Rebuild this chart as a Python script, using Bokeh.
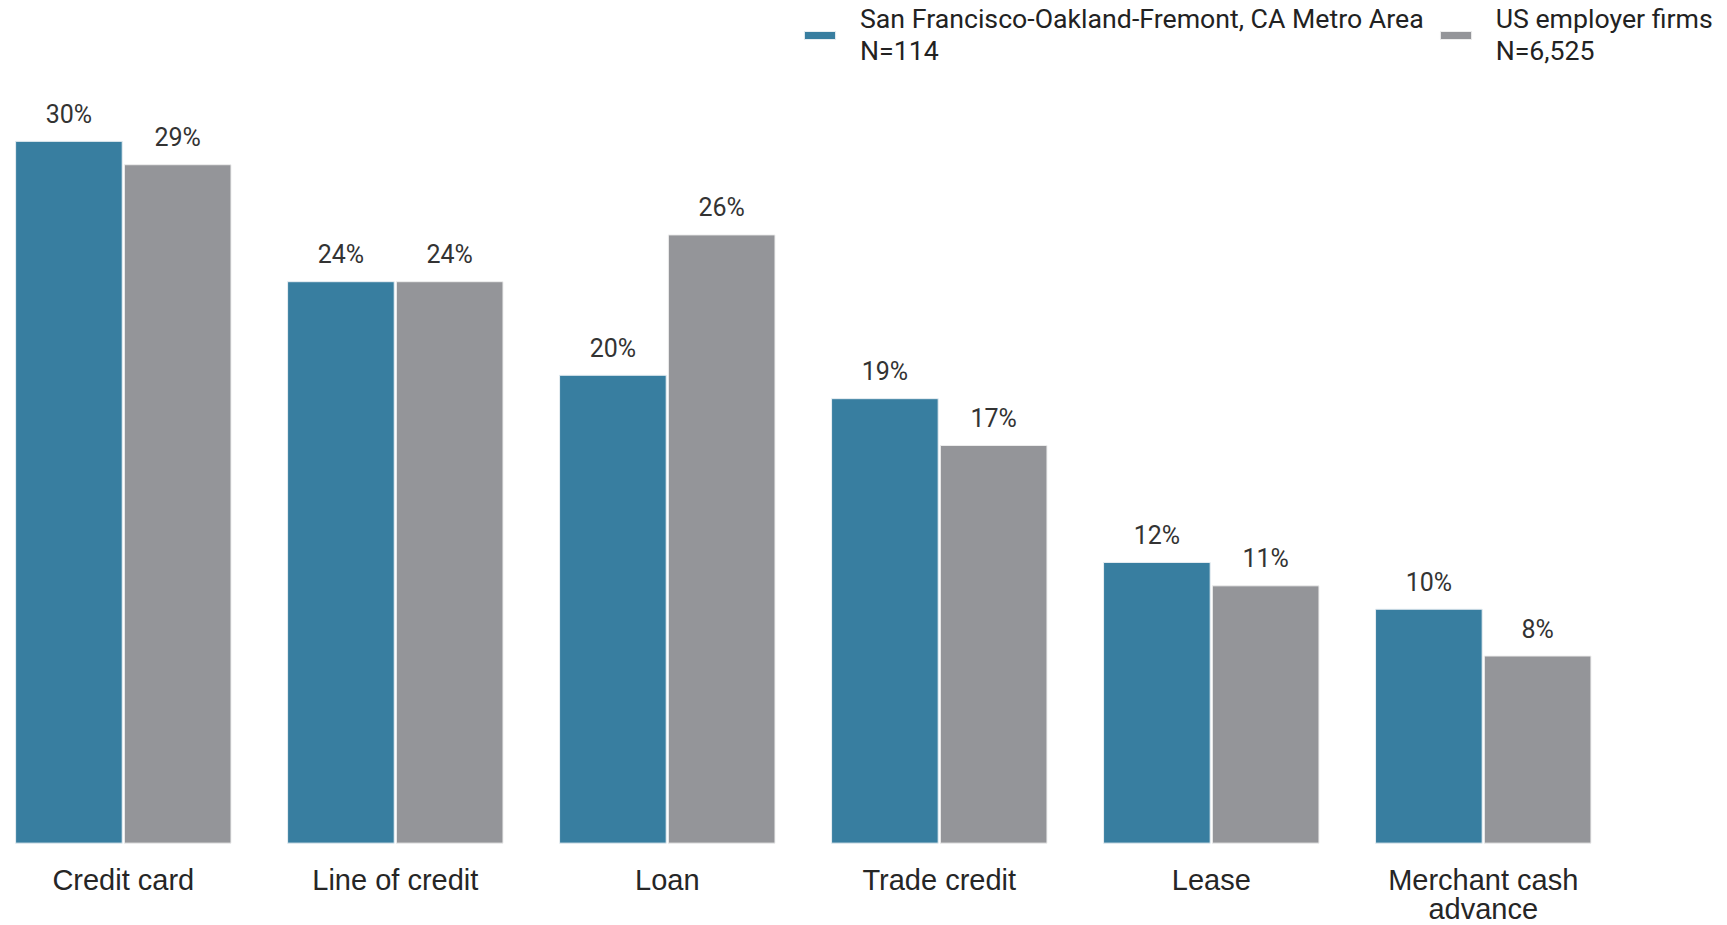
from bokeh.plotting import figure
from bokeh.models import ColumnDataSource, Range1d, Legend, LegendItem
from bokeh.core.properties import value
from bokeh.embed import file_html
from bokeh.resources import INLINE

categories = ["Credit card", "Line of credit", "Loan", "Trade credit", "Lease", "Merchant cash\nadvance"]
sf_values = [30, 24, 20, 19, 12, 10]
us_values = [29, 24, 26, 17, 11, 8]
series_names = ["San Francisco-Oakland-Fremont, CA Metro Area\nN=114", "US employer firms\nN=6,525"]
series_colors = ["#387ea0", "#949599"]

idx = list(range(len(categories)))
offset = 0.2
bar_w = 0.392

sf_src = ColumnDataSource(dict(x=[i - offset for i in idx], top=sf_values,
                               label=[f"{v}%" for v in sf_values]))
us_src = ColumnDataSource(dict(x=[i + offset for i in idx], top=us_values,
                               label=[f"{v}%" for v in us_values]))
cat_src = ColumnDataSource(dict(x=idx, y=[0] * len(idx), text=categories))

p = figure(width=1727, height=925,
           x_range=Range1d(-0.4515, 5.898), y_range=Range1d(-3.52, 36.02),
           output_backend="svg", toolbar_location=None,
           min_border=0, min_border_left=0, min_border_right=0,
           min_border_top=0, min_border_bottom=0)
p.axis.visible = False
p.xgrid.visible = False
p.ygrid.visible = False
p.outline_line_color = None
p.background_fill_color = "white"

r1 = p.vbar(x="x", top="top", bottom=0, width=bar_w, source=sf_src,
            fill_color=series_colors[0], line_color="#e8eef2", line_width=1)
r2 = p.vbar(x="x", top="top", bottom=0, width=bar_w, source=us_src,
            fill_color=series_colors[1], line_color="#eeeeee", line_width=1)

for src in (sf_src, us_src):
    p.text(x="x", y="top", text="label", source=src,
           text_align="center", text_baseline="middle", y_offset=-27,
           text_font=value("Roboto"), text_font_size="25px", text_color="#333333")

p.text(x="x", y="y", text="text", source=cat_src,
       text_align="center", text_baseline="top", y_offset=21,
       text_font=value("Liberation Sans"), text_font_size="29px",
       text_line_height=0.9, text_color="#262626")

legend = Legend(items=[LegendItem(label=series_names[0], renderers=[r1]),
                       LegendItem(label=series_names[1], renderers=[r2])],
                orientation="horizontal", location=(800, 858),
                glyph_width=39, glyph_height=10, label_standoff=21, spacing=12,
                padding=0, margin=0, border_line_color=None,
                background_fill_alpha=0,
                label_text_font="Roboto", label_text_font_size="26.7px",
                label_text_color="#222222", label_text_line_height=0.95)
p.add_layout(legend, "center")

open("out.html", "w").write(file_html(p, INLINE))
